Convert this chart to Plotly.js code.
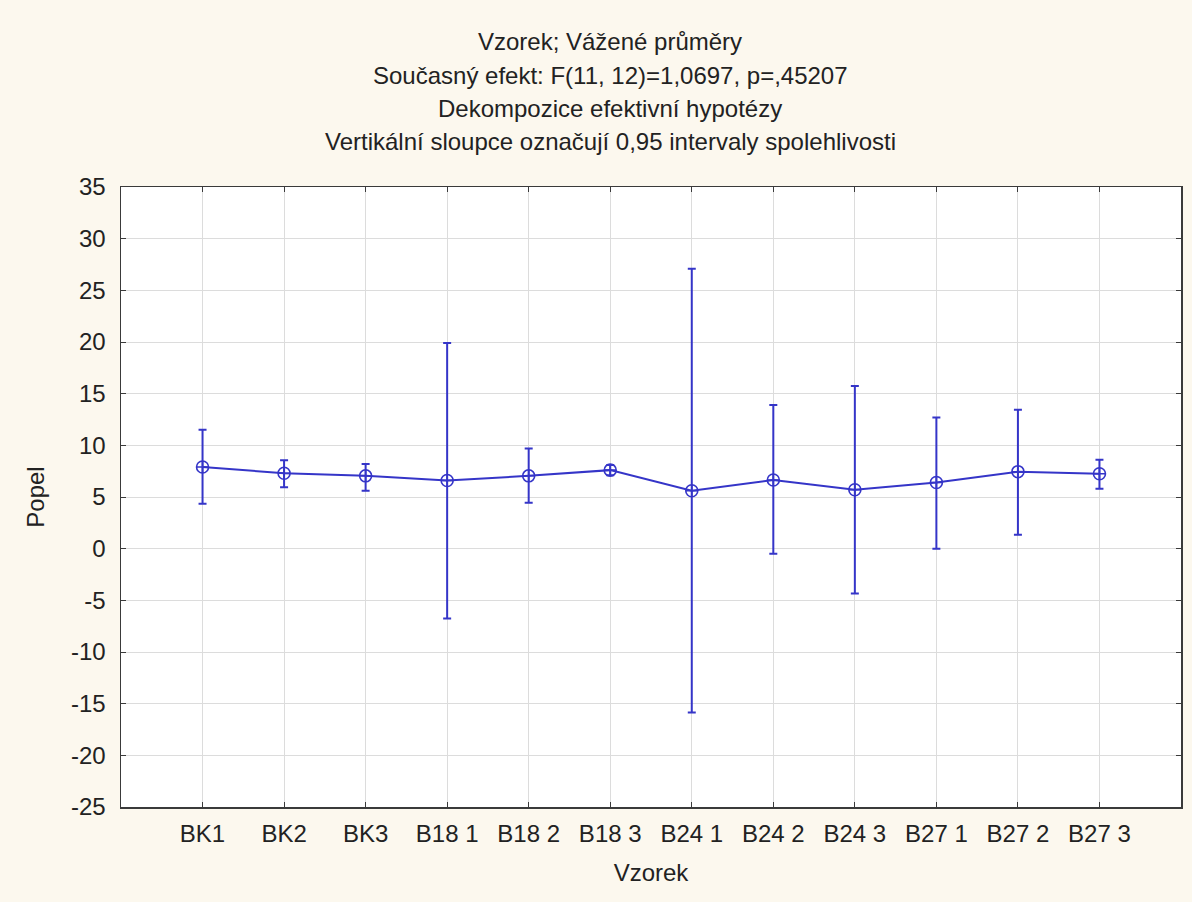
<!DOCTYPE html>
<html>
<head>
<meta charset="utf-8">
<script src="https://cdn.plot.ly/plotly-3.0.1.min.js"></script>
<style>
  html, body { margin: 0; padding: 0; background: #FCF8EE; }
  #chart { width: 1192px; height: 902px; }
</style>
</head>
<body>
<div id="chart"></div>
<script>
const categories = ['BK1', 'BK2', 'BK3', 'B18 1', 'B18 2', 'B18 3', 'B24 1', 'B24 2', 'B24 3', 'B27 1', 'B27 2', 'B27 3'];
const means = [7.9, 7.3, 7.05, 6.6, 7.05, 7.6, 5.6, 6.65, 5.7, 6.4, 7.45, 7.25];
const upperCI = [11.5, 8.55, 8.2, 19.9, 9.7, 8.1, 27.1, 13.9, 15.75, 12.7, 13.45, 8.6];
const lowerCI = [4.35, 5.95, 5.6, -6.75, 4.45, 7.1, -15.85, -0.5, -4.35, 0.0, 1.35, 5.8];
const yTicks = [-25, -20, -15, -10, -5, 0, 5, 10, 15, 20, 25, 30, 35];

const titleLines = [
  'Vzorek; Vážené průměry',
  'Současný efekt: F(11, 12)=1,0697, p=,45207',
  'Dekompozice efektivní hypotézy',
  'Vertikální sloupce označují 0,95 intervaly spolehlivosti'
];

const blue = '#3535C8';
const FONT = 'Liberation Sans, Arial, sans-serif';
const FS = 24;

const trace = {
  type: 'scatter',
  mode: 'lines+markers',
  x: categories,
  y: means,
  line: { color: blue, width: 2 },
  marker: { symbol: 'circle-cross-open', size: 12, color: blue, line: { color: blue, width: 1.6 } },
  error_y: {
    type: 'data',
    symmetric: false,
    array: upperCI.map((u, i) => u - means[i]),
    arrayminus: means.map((m, i) => m - lowerCI[i]),
    color: blue,
    thickness: 2,
    width: 4
  },
  hoverinfo: 'x+y'
};

const W = 1192, H = 902;
const TITLE_CX = 610 / W;
const lineYs = [42, 75, 108, 141];

const annotations = titleLines.slice(1).map((txt, i) => ({
  text: txt,
  xref: 'paper', yref: 'paper',
  x: (610 - 121) / (W - 121 - 11), y: ((H - 95) - lineYs[i + 1]) / ((H - 95) - 186.5),
  xanchor: 'center', yanchor: 'middle',
  showarrow: false,
  font: { family: FONT, size: FS, color: '#222' }
}));

const layout = {
  width: W,
  height: H,
  paper_bgcolor: '#FCF8EE',
  plot_bgcolor: '#FFFFFF',
  margin: { l: 121, r: 11, t: 186.5, b: 95, pad: 0 },
  showlegend: false,
  title: {
    text: titleLines[0],
    font: { family: FONT, size: FS, color: '#222' },
    x: TITLE_CX, xref: 'container', xanchor: 'center',
    y: 1 - lineYs[0] / H, yref: 'container', yanchor: 'middle'
  },
  annotations: annotations,
  xaxis: {
    type: 'category',
    range: [-1, 12],
    showgrid: true,
    gridcolor: '#DCDCDC',
    gridwidth: 1,
    showline: true,
    linecolor: '#3A3A3A',
    linewidth: 1.5,
    mirror: 'allticks',
    ticks: 'inside',
    ticklen: 5,
    tickcolor: '#3A3A3A',
    tickfont: { family: FONT, size: FS, color: '#222' },
    ticklabelstandoff: 5,
    zeroline: false,
    title: { text: 'Vzorek', font: { family: FONT, size: FS, color: '#222' }, standoff: 18 },
    automargin: false
  },
  yaxis: {
    range: [-25, 35],
    tickvals: yTicks,
    ticktext: yTicks.map(String),
    showgrid: true,
    gridcolor: '#DCDCDC',
    gridwidth: 1,
    showline: true,
    linecolor: '#3A3A3A',
    linewidth: 1.5,
    mirror: 'allticks',
    ticks: 'inside',
    ticklen: 5,
    tickcolor: '#3A3A3A',
    tickfont: { family: FONT, size: FS, color: '#222' },
    ticklabelstandoff: 9,
    zeroline: false,
    title: { text: 'Popel', font: { family: FONT, size: FS, color: '#222' }, standoff: 19 },
    automargin: false
  }
};

Plotly.newPlot('chart', [trace], layout, { displayModeBar: false, staticPlot: true });
</script>
</body>
</html>
